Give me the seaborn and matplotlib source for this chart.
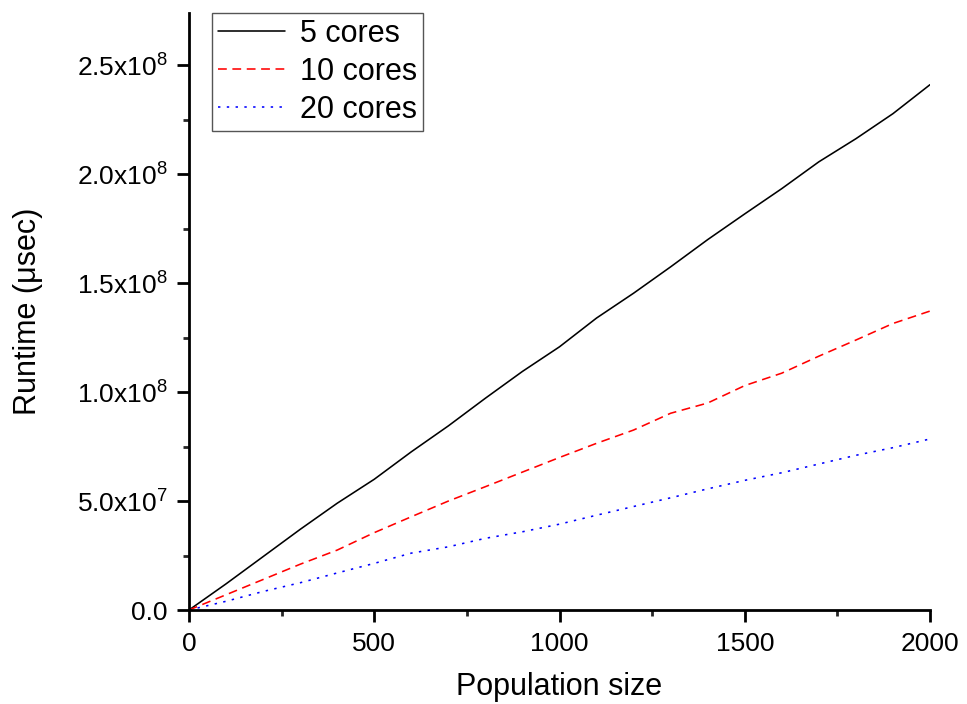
import numpy as np
import pandas as pd
import matplotlib
matplotlib.use("Agg")
import matplotlib.pyplot as plt
from matplotlib.ticker import MultipleLocator, FuncFormatter
import seaborn as sns

# Values (runtime in units of 1e8 usec)
population = [0, 100, 200, 300, 400, 500, 600, 700, 800, 900, 1000,
              1100, 1200, 1300, 1400, 1500, 1600, 1700, 1800, 1900, 2000]
cores_5 = [0.0, 0.12, 0.245, 0.37, 0.49, 0.60, 0.726, 0.845, 0.972, 1.095, 1.208,
           1.34, 1.454, 1.575, 1.70, 1.818, 1.934, 2.057, 2.163, 2.278, 2.411]
cores_10 = [0.0, 0.07, 0.14, 0.21, 0.275, 0.355, 0.428, 0.50, 0.566, 0.633, 0.70,
            0.765, 0.826, 0.903, 0.95, 1.03, 1.087, 1.165, 1.239, 1.315, 1.372]
cores_20 = [0.0, 0.04, 0.085, 0.125, 0.17, 0.214, 0.261, 0.29, 0.329, 0.359, 0.394,
            0.435, 0.475, 0.515, 0.556, 0.595, 0.63, 0.67, 0.71, 0.745, 0.785]
series_names = ["5 cores", "10 cores", "20 cores"]

df = pd.concat([
    pd.DataFrame({"Population size": population, "Runtime": np.array(v) * 1e8, "series": name})
    for name, v in zip(series_names, [cores_5, cores_10, cores_20])
])

sns.set_theme(style="ticks")
plt.rcParams["font.family"] = ["Liberation Sans", "DejaVu Sans"]
plt.rcParams["mathtext.fontset"] = "custom"
plt.rcParams["mathtext.rm"] = "Liberation Sans"
plt.rcParams["text.color"] = "black"
plt.rcParams["axes.labelcolor"] = "black"

fig = plt.figure(figsize=(9.67, 7.04), dpi=100)
ax = fig.add_axes([189 / 967, 1 - 610 / 704, (930 - 189) / 967, (610 - 13) / 704])

sns.lineplot(
    data=df, x="Population size", y="Runtime", hue="series", style="series",
    palette={"5 cores": "black", "10 cores": "#ff0000", "20 cores": "#0000ff"},
    dashes={"5 cores": "", "10 cores": (5.5, 3.5), "20 cores": (1.5, 4.0)},
    linewidth=1.15, ax=ax, legend=True,
)

ax.set_xlim(0, 2000)
ax.set_ylim(0, 2.74e8)
ax.xaxis.set_major_locator(MultipleLocator(500))
ax.xaxis.set_minor_locator(MultipleLocator(250))
ax.yaxis.set_major_locator(MultipleLocator(0.5e8))
ax.yaxis.set_minor_locator(MultipleLocator(0.25e8))


def sci_fmt(v, pos):
    if abs(v) < 1:
        return "0.0"
    exp = int(np.floor(np.log10(abs(v))))
    mant = v / 10 ** exp
    return r"$\mathregular{%.1fx10^{%d}}$" % (mant, exp)


ax.yaxis.set_major_formatter(FuncFormatter(sci_fmt))

for side in ["top", "right"]:
    ax.spines[side].set_visible(False)
for side in ["left", "bottom"]:
    ax.spines[side].set_linewidth(2.0)
    ax.spines[side].set_color("black")

ax.tick_params(axis="both", which="major", direction="out", length=8.5, width=2.0,
               labelsize=19, colors="black", pad=7)
ax.tick_params(axis="both", which="minor", direction="out", length=4.5, width=2.0)

ax.set_xlabel("Population size", fontsize=22, labelpad=12, color="black")
ax.set_ylabel("Runtime (μsec)", fontsize=22, labelpad=24, color="black")

leg = ax.legend(loc="upper left", bbox_to_anchor=(23 / 741, 1.0), fontsize=22,
                frameon=True, fancybox=False, edgecolor="#555555", framealpha=1,
                handlelength=2.2, handletextpad=0.5, borderpad=0.18, labelspacing=0.27,
                borderaxespad=0.0)
leg.get_frame().set_linewidth(1.0)
for t in leg.get_texts():
    t.set_color("black")

fig.savefig("out.png", dpi=100)
